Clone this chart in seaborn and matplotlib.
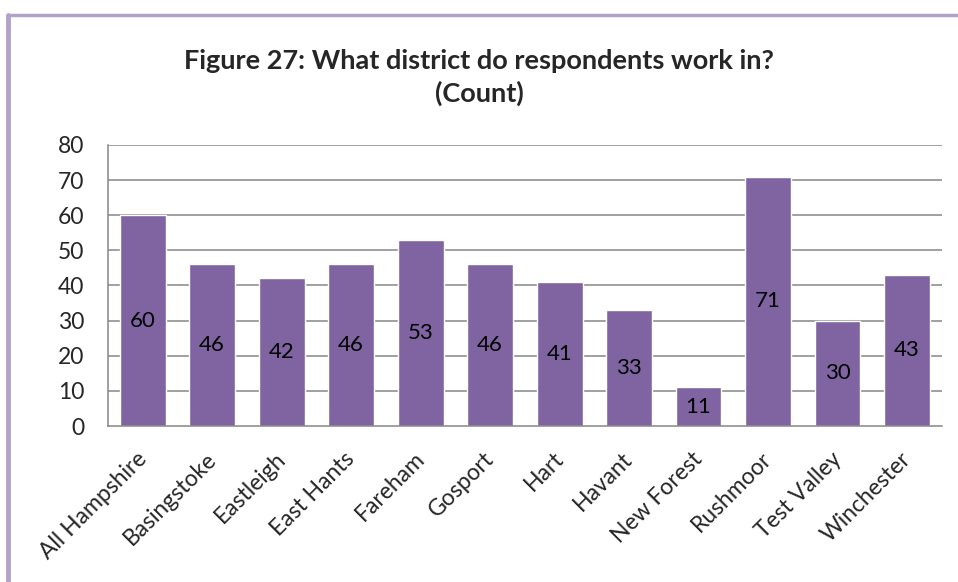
import matplotlib
matplotlib.use("Agg")
import matplotlib.pyplot as plt
import matplotlib.transforms as mtransforms
import seaborn as sns
import pandas as pd
from matplotlib.lines import Line2D

districts = ["All Hampshire", "Basingstoke", "Eastleigh", "East Hants", "Fareham",
             "Gosport", "Hart", "Havant", "New Forest", "Rushmoor", "Test Valley", "Winchester"]
counts = [60, 46, 42, 46, 53, 46, 41, 33, 11, 71, 30, 43]
y_ticks = [0, 10, 20, 30, 40, 50, 60, 70, 80]
title = "Figure 27: What district do respondents work in?\n(Count)"

sns.set_style("white")
plt.rcParams['font.family'] = ['Lato', 'DejaVu Sans']

df = pd.DataFrame({"district": districts, "count": counts})

fig = plt.figure(figsize=(9.58, 5.82), dpi=100)
ax = fig.add_axes([0.1127, 0.268, 0.8703, 0.483])

sns.barplot(data=df, x="district", y="count", color="#8064A2", saturation=1,
            width=0.66, ax=ax, zorder=3)

grid_c = "#868686"
ax.set_ylim(0, 80)
ax.set_xlim(-0.5, len(districts) - 0.5)
ax.set_yticks(y_ticks)
ax.set_yticklabels([str(v) for v in y_ticks], fontsize=16.5)
for v in y_ticks[1:]:
    ax.axhline(v, color=grid_c, lw=1.1, zorder=1)

ax.set_xticks(range(len(districts)))
ax.set_xticklabels(districts, rotation=45, ha="right", rotation_mode="anchor", fontsize=16.5)
ax.set_xticks([i - 0.5 for i in range(len(districts) + 1)], minor=True)
ax.tick_params(axis="x", which="major", length=0, pad=16)
ax.tick_params(axis="x", which="minor", length=7, color=grid_c, width=1.1, direction="out")
ax.tick_params(axis="y", length=7, color=grid_c, width=1.1, direction="out", pad=10)
ax.set_xlabel("")
ax.set_ylabel("")
shift = mtransforms.ScaledTranslation(-7 / 100, 0, fig.dpi_scale_trans)
for lbl in ax.get_xticklabels():
    lbl.set_transform(lbl.get_transform() + shift)

for s in ["top", "right"]:
    ax.spines[s].set_visible(False)
for s in ["left", "bottom"]:
    ax.spines[s].set_color(grid_c)
    ax.spines[s].set_linewidth(1.1)
    ax.spines[s].set_zorder(4)

for i, c in enumerate(counts):
    ax.text(i, c / 2, str(c), ha="center", va="center", fontsize=16, color="black", zorder=5)

fig.text(0.5, 0.867, title, ha="center", va="center", fontsize=19.5,
         fontweight="bold", linespacing=1.4)

# outer frame (top and left border)
border_c = "#B3A2C7"
fig.add_artist(Line2D([8 / 958, 1.0], [1 - 15 / 582, 1 - 15 / 582], color=border_c, lw=2.5,
                      transform=fig.transFigure))
fig.add_artist(Line2D([8 / 958, 8 / 958], [0, 1 - 15 / 582], color=border_c, lw=3.5,
                      transform=fig.transFigure))

fig.savefig("out.png", dpi=100)
